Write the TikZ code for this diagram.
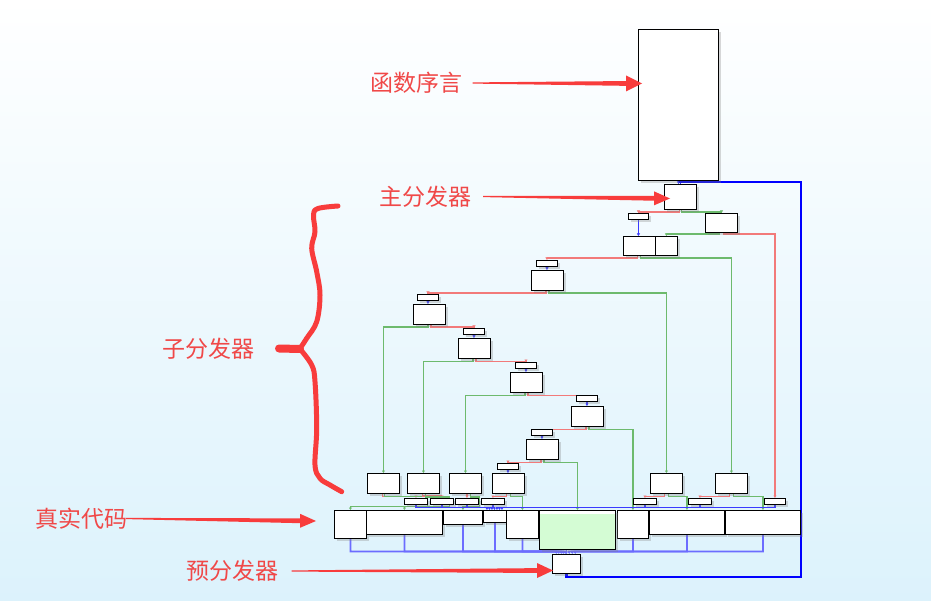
\documentclass[tikz,border=0pt]{standalone}
\usepackage{fontspec}
\newfontfamily\cjk{Noto Sans CJK SC}
\usetikzlibrary{arrows.meta,calc,shadows}
\definecolor{bgblue}{HTML}{DCF2FC}
\definecolor{markred}{HTML}{F83C3C}
\definecolor{textred}{HTML}{F04848}
\definecolor{edgered}{HTML}{F27A7A}
\definecolor{edgegreen}{HTML}{6DBA6D}
\definecolor{edgeblue}{HTML}{3A3AFF}
\definecolor{faintblue}{HTML}{6C6CFF}
\definecolor{loopblue}{HTML}{0000FF}
\definecolor{codegreen}{HTML}{D4FCD4}
\pgfdeclarelayer{bg}
\pgfdeclarelayer{wires}
\pgfsetlayers{bg,wires,main}
\tikzset{
  blk/.style={draw=black,fill=white,line width=0.9pt,inner sep=0pt,anchor=north west,
    drop shadow={shadow xshift=2.5pt,shadow yshift=-2.5pt,opacity=.3}},
  wire/.style={line width=1.8pt,-{Latex[length=2.5pt,width=3.5pt]}},
  redge/.style={wire,draw=edgered},
  gedge/.style={wire,draw=edgegreen},
  bedge/.style={wire,draw=edgeblue},
  lbedge/.style={wire,draw=faintblue},
  loopedge/.style={line width=2.4pt,draw=loopblue,-{Latex[length=3pt,width=4.5pt]}},
  lbl/.style={font=\cjk\fontsize{23}{23}\selectfont,text=textred,inner sep=0pt},
  annot/.style={fill=markred},
  brace/.style={draw=markred,line width=5pt,line cap=round,line join=round}
}
\newcommand{\annarrow}[3]{%
  \coordinate (ah) at ($(#2)!16pt!(#1)$);
  \fill[annot] ($(#1)+(0,-.6)$) -- ($(ah)+(0,-2.4)$) -- ($(ah)+(0,-#3)$) -- (#2)
    -- ($(ah)+(0,#3)$) -- ($(ah)+(0,2.4)$) -- ($(#1)+(0,.6)$) -- cycle;}

\begin{document}
\begin{tikzpicture}[x=1pt,y=-1pt]
\useasboundingbox (0,0) rectangle (931,601);
\begin{pgfonlayer}{bg}
\shade[top color=white,bottom color=bgblue] (0,0) rectangle (931,601);
\end{pgfonlayer}

% blocks of the graph
\foreach \n/\x/\y/\w/\h in {
  pro/638/29/80/151, md/664/184/32/25, t0/628/213/20/6, rb/705/213/32/19,
  pa/623/236/32/19, pb/655/236/22/19,
  t1/536/260/21/6, d1/531/270/32/20, t2/417/294/21/6, d2/413/304/32/20,
  t3/463/328/21/6, d3/458/338/32/20, t4/515/362/21/6, d4/510/372/32/20,
  t5/576/395/21/6, d5/571/406/32/20, t6/531/429/21/6, d6/526/439/32/20,
  t7/497/463/21/6, b4/492/473/32/20,
  b1/367/473/32/20, b2/407/473/32/20, b3/449/473/32/20, b5/650/473/32/20, b6/715/473/32/20,
  s1/404/498/23/6, s2/430/498/23/6, s3/455/498/23/6, s4/481/498/23/6,
  s5/633/498/23/6, s6/688/498/23/6, s7/764/498/21/6,
  r1/334/510/32/28, r2/366/510/76/24, r3/443/510/39/14, r4/483/510/23/12,
  r5/506/510/32/28, r7/617/510/31/28, r8/649/510/75/24, r9/725/510/75/24,
  pre/552/554/28/19}
  \node[blk,minimum width=\w pt,minimum height=\h pt] (\n) at (\x,\y) {};
\node[blk,fill=codegreen,minimum width=76pt,minimum height=39pt] (r6) at (539,510) {};
\fill[white] ([xshift=.5pt,yshift=-.5pt]r6.north west) rectangle ([xshift=-.5pt,yshift=-4pt]r6.north east);

\coordinate (loopc) at (801,182);
\coordinate (pjoin) at (566,551.5);

\begin{pgfonlayer}{wires}
\draw[bedge] (pro.south) -- (pro.south |- md.north);
\draw[loopedge] (pre.south) -- ++(0,3) -| (loopc) -| (md.north);
\draw[redge] ([xshift=-1pt]md.south) -- ++(0,2) -| (t0.north);
\draw[gedge] ([xshift=1pt]md.south) -- ++(0,2) -| (rb.north);
\draw[bedge] (t0.south) -- (t0.south |- pa.north);
\draw[gedge] ([xshift=-2pt]rb.south) -- ++(0,1.5) -| (pb.north);
\draw[redge] ([xshift=2pt]rb.south) -- ++(0,1.5) -| (s7.north);
% dispatcher chain
\foreach \a/\r/\g/\rs/\gs in {pa/t1/b6/-2/1, d1/t2/b5/-1.5/1.5, d2/t3/b1/1.5/-1.5,
    d3/t4/b2/1.5/-1.5, d4/t5/b3/1.5/-1.5, d5/t6/r7/-1.5/1.5, d6/t7/r6/-1.5/1.5}{
  \draw[redge] ([xshift=\rs pt]\a.south) -- ++(0,2.5) -| (\r.north);
  \draw[gedge] ([xshift=\gs pt]\a.south) -- ++(0,2.5) -| (\g.north);
}
\foreach \t/\d in {t1/d1,t2/d2,t3/d3,t4/d4,t5/d5,t6/d6,t7/b4}
  \draw[bedge] (\t.south) -- (\t.south |- \d.north);
% last row of the chain
\draw[redge] ([xshift=-1pt]b1.south) -- ++(0,2.5) -| (s1.north);
\draw[gedge] ([xshift=1pt]b1.south) -- ++(0,2.5) -- ++(43,0) -- ++(0,10) -| (r1.north);
\draw[redge] ([xshift=-1pt]b2.south) -- ++(0,2) -| (s2.north);
\draw[gedge] ([xshift=2pt]b2.south) -- ++(0,3) -- ++(24,0) -- ++(0,9.5) -| (r2.north);
\draw[redge] (s3.north |- b3.south) -- (s3.north);
\draw[gedge] ([xshift=5pt]b3.south) -- ++(0,3) -- ++(9,0) -- ++(0,9.5) -| (r3.north);
\draw[redge] ([xshift=-2pt]b4.south) -- ++(0,2.5) -| (s4.north);
\draw[gedge] ([xshift=2pt]b4.south) -- ++(0,2.5) -| (r5.north);
\draw[redge] ([xshift=-2pt]b5.south) -- ++(0,2.5) -| (s5.north);
\draw[gedge] ([xshift=2pt]b5.south) -- ++(0,2.5) -| (r8.north);
\draw[redge] ([xshift=-2pt]b6.south) -- ++(0,2.5) -| (s6.north);
\draw[gedge] ([xshift=2pt]b6.south) -- ++(0,2.5) -| (r9.north);
\foreach \s/\k in {s1/-8,s2/-5.5,s3/-3,s4/-0.5,s5/2,s6/4.5,s7/7}
  \draw[bedge] (\s.south) -- ++(0,2.5) -| ([xshift=\k pt]r4.north);
% back to the pre-dispatcher
\foreach \r/\k in {r1/-10,r2/-7.5,r3/-5,r4/-3,r5/-1,r7/3,r8/6,r9/9}
  \draw[lbedge] (\r.south) |- ([xshift=\k pt]pjoin) -- ([xshift=\k pt]pre.north);
\draw[lbedge] (pre.north |- r6.south) -- (pre.north);
\end{pgfonlayer}

% notes
\node[lbl] (l1) at (416.5,83) {函数序言};
\node[lbl] (l2) at (425,196.5) {主分发器};
\node[lbl] (l3) at (208,348.5) {子分发器};
\node[lbl] (l4) at (81,518.5) {真实代码};
\node[lbl] (l5) at (232.5,571) {预分发器};
\coordinate (a1) at ([xshift=10pt]l1.east);
\coordinate (a2) at ([xshift=12pt]l2.east);
\coordinate (a4) at ([xshift=-1pt]l4.east);
\coordinate (a5) at ([xshift=13pt]l5.east);
\coordinate (tip1) at (642,83.5);
\coordinate (tip2) at (670,198.5);
\coordinate (tip4) at (316,521);
\coordinate (tip5) at (553,570.5);
\annarrow{a1}{tip1}{8}
\annarrow{a2}{tip2}{7}
\annarrow{a4}{tip4}{7}
\annarrow{a5}{tip5}{7.5}
\draw[brace] plot[smooth,tension=.6] coordinates {(338,206) (318,208.5) (313.5,215) (315,231.7)
  (311.7,248.3) (316.7,271.7) (320,295) (316.7,321.7) (306.7,338.3) (300,348.5)};
\draw[brace] plot[smooth,tension=.6] coordinates {(300,349) (311.7,365) (315,381.7) (316.7,428.3)
  (315,465) (320,478.3) (330,485) (341.7,491.7)};
\draw[brace,line width=8pt] (279,348.5) -- (300,349);
\end{tikzpicture}
\end{document}
